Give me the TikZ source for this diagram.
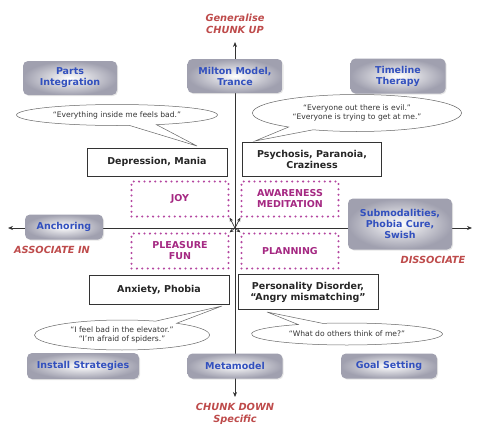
\documentclass[tikz,border=0pt]{standalone}
\usepackage{fontspec}
\setmainfont{DejaVu Sans}
\usetikzlibrary{positioning, arrows.meta, shapes.callouts, shadows}

\definecolor{boxblue}{RGB}{50,80,190}
\definecolor{boxgray}{RGB}{160,160,175}
\definecolor{chunkred}{RGB}{190,75,75}
\definecolor{stateplum}{RGB}{165,40,130}
\definecolor{dotplum}{RGB}{180,70,160}

\tikzset{
  chunkbox/.style={rounded corners=5pt, inner color=white, outer color=boxgray,
    drop shadow={shadow xshift=1pt, shadow yshift=-1pt, opacity=0.2},
    font=\fontsize{9.5}{11}\selectfont\bfseries, text=boxblue, align=center, inner sep=0pt},
  statebox/.style={draw=black!80, fill=white, line width=0.7pt, inner sep=0pt,
    font=\fontsize{9.5}{11}\selectfont\bfseries, text=black!85, align=center},
  dotbox/.style={draw=dotplum, line width=2.3pt, dash pattern=on 0pt off 5.4pt, line cap=round,
    fill=white, minimum width=97pt, minimum height=35pt, inner sep=0pt,
    font=\fontsize{9.5}{11}\selectfont\bfseries, text=stateplum, align=center},
  bubble/.style={ellipse callout, callout pointer arc=16, draw=black!60, fill=white, line width=0.5pt,
    inner sep=0pt, font=\fontsize{7.6}{9.5}\selectfont, text=black!80, align=center},
  axislabel/.style={font=\fontsize{9.8}{11.5}\selectfont\bfseries\itshape, text=chunkred, align=center},
  axisarrow/.style={line width=0.7pt, black!80, -{Stealth[length=5pt,width=4pt]}},
  midarrow/.style={line width=0.7pt, black!80, -{Stealth[length=4pt,width=3.5pt]}},
}

\begin{document}
\begin{tikzpicture}[x=1pt,y=-1pt]
    \useasboundingbox (0,0) rectangle (480,434);
    % Axes
    \coordinate (ctr) at (235,228);
    \coordinate (up) at (235,42);
    \coordinate (down) at (235,397);
    \coordinate (left) at (8,228);
    \coordinate (right) at (472,228);
    \draw[axisarrow] (ctr) -- (up);
    \draw[axisarrow] (ctr) -- (down);
    \draw[axisarrow] (ctr) -- (left);
    \draw[axisarrow] (ctr) -- (right);
    % Axis labels
    \node[axislabel] (chunkup) at (235,24) {Generalise\\CHUNK UP};
    \node[axislabel] (chunkdown) at (235,414) {CHUNK DOWN\\Specific};
    \node[axislabel] (assoc) at (52,250) {ASSOCIATE IN};
    \node[axislabel] (dissoc) at (433,260) {DISSOCIATE};
    % Interventions
    \node[chunkbox, minimum width=94pt, minimum height=34pt] (parts) at (70,78) {Parts\\Integration};
    \node[chunkbox, minimum width=95pt, minimum height=34pt] (milton) at (235,76) {Milton Model,\\Trance};
    \node[chunkbox, minimum width=95pt, minimum height=35pt] (timeline) at (398,76) {Timeline\\Therapy};
    \node[chunkbox, minimum width=78pt, minimum height=25pt] (anchor) at (64,227) {Anchoring};
    \node[chunkbox, minimum width=104pt, minimum height=51pt] (submod) at (400,224) {Submodalities,\\Phobia Cure,\\Swish};
    \node[chunkbox, minimum width=112pt, minimum height=26pt] (install) at (83,366) {Install Strategies};
    \node[chunkbox, minimum width=95pt, minimum height=25pt] (meta) at (235,366) {Metamodel};
    \node[chunkbox, minimum width=96pt, minimum height=25pt] (goal) at (389,366) {Goal Setting};
    % Problem states
    \node[statebox, minimum width=140pt, minimum height=28pt] (depr) at (157,162) {Depression, Mania};
    \node[statebox, minimum width=139pt, minimum height=34pt] (psych) at (312,159) {Psychosis, Paranoia,\\Craziness};
    \node[statebox, minimum width=140pt, minimum height=29pt] (anx) at (159,290) {Anxiety, Phobia};
    \node[statebox, minimum width=140pt, minimum height=35pt] (pers) at (308,292) {Personality Disorder,\\``Angry mismatching''};
    % Resource states
    \node[dotbox] (joy) at (180,199) {JOY};
    \node[dotbox] (aware) at (290,199) {AWARENESS\\MEDITATION};
    \node[dotbox] (pleasure) at (180,251) {PLEASURE\\FUN};
    \node[dotbox] (plan) at (290,251) {PLANNING};
    \draw[midarrow] (ctr) -- (joy.south east);
    \draw[midarrow] (ctr) -- (aware.south west);
    \draw[midarrow] (ctr) -- (pleasure.north east);
    \draw[midarrow] (ctr) -- (plan.north west);
    % Speech bubbles
    \coordinate (tip1) at (197,146);
    \coordinate (tip2) at (255,141);
    \coordinate (tip3) at (222,306);
    \coordinate (tip4) at (267,312);
    \node[bubble, minimum width=201pt, minimum height=21pt, callout absolute pointer={(tip1)}] (say1) at (117,115)
        {``Everything inside me feels bad.''};
    \node[bubble, minimum width=209pt, minimum height=37pt, callout absolute pointer={(tip2)}] (say2) at (357,113)
        {``Everyone out there is evil.''\\``Everyone is trying to get at me.''};
    \node[bubble, minimum width=175pt, minimum height=30pt, callout absolute pointer={(tip3)}] (say3) at (122,335)
        {``I feel bad in the elevator.''\\``I'm afraid of spiders.''};
    \node[bubble, minimum width=191pt, minimum height=22pt, callout absolute pointer={(tip4)}] (say4) at (347,334)
        {``What do others think of me?''};
\end{tikzpicture}
\end{document}
